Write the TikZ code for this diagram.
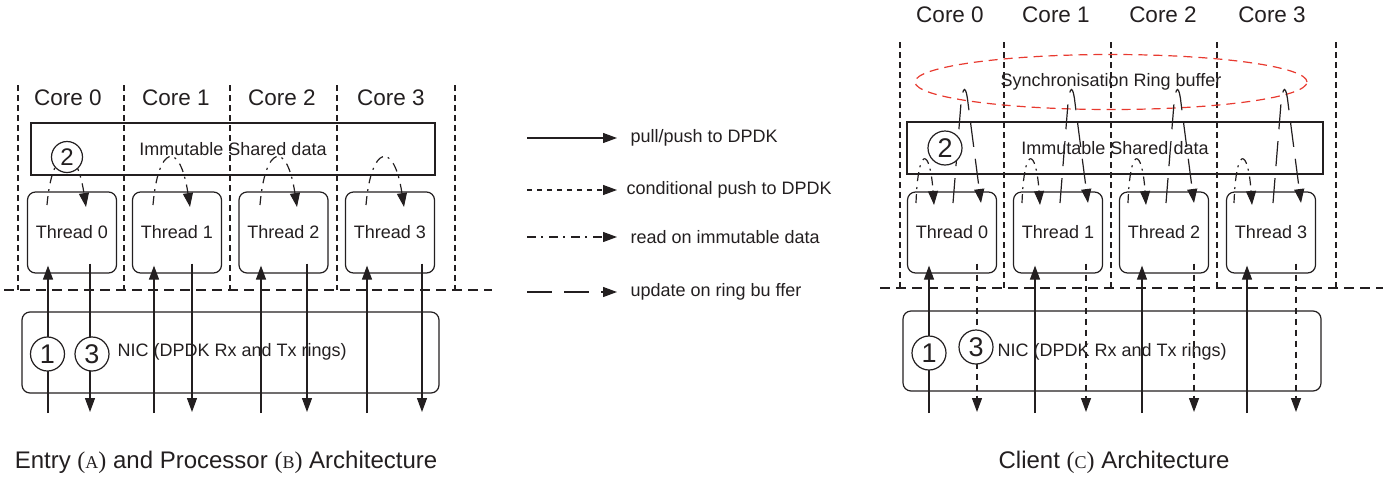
\documentclass[tikz,border=0pt]{standalone}
\usepackage{fontspec}
\setmainfont{Liberation Sans}
\newfontfamily\tms{Liberation Serif}
\usetikzlibrary{arrows.meta,shapes.geometric}
\definecolor{ringred}{RGB}{232,58,48}
\definecolor{ink}{RGB}{35,31,32}
% small-caps style letter in parentheses, set in a serif face
\newcommand\capsc[1]{{\tms({\fontsize{18}{20}\selectfont #1})}}

\begin{document}
\begin{tikzpicture}[x=1pt,y=-1pt,line width=1.2pt,color=ink,
  >={Triangle[length=14pt,width=10pt]},
  txt/.style={inner sep=0pt,font=\fontsize{18}{21}\selectfont},
  corelbl/.style={inner sep=0pt,font=\fontsize{22.5}{26}\selectfont},
  caption/.style={inner sep=0pt,font=\fontsize{24}{28}\selectfont},
  grid/.style={dash pattern=on 6pt off 4pt},
  sepline/.style={dash pattern=on 10pt off 6pt},
  thread/.style={draw,rounded corners=8pt,minimum width=89pt,minimum height=81pt,inner sep=0pt,font=\fontsize{18}{21}\selectfont},
  shared/.style={draw,minimum height=52pt,inner sep=0pt,font=\fontsize{18}{21}\selectfont},
  nic/.style={draw,rounded corners=8pt,inner sep=0pt},
  num/.style={draw,circle,fill=white,minimum size=34pt,inner sep=0pt,font=\fontsize{27}{27}\selectfont},
  smallnum/.style={num,minimum size=31pt,font=\fontsize{24}{24}\selectfont},
  condline/.style={->,dash pattern=on 5pt off 5pt},
  readline/.style={->,dash pattern=on 9pt off 5pt on 2pt off 6pt},
  ringline/.style={->,dash pattern=on 25pt off 12pt},
  ring/.style={draw=ringred,ellipse,dash pattern=on 9pt off 6pt,minimum width=392pt,minimum height=55pt,inner sep=0pt,font=\fontsize{18}{21}\selectfont}
]
\useasboundingbox (0,0) rectangle (1383,480);

% ===================== Entry / Processor architecture =====================
\foreach \x in {18,124,230,337,455} \draw[grid] (\x,85) -- (\x,290);
\draw[sepline] (4,290) -- (492,290);

\foreach \i/\x in {0/68,1/176,2/282,3/391}
  \node[corelbl] (coreA\i) at (\x,98) {Core \i};

\node[shared,minimum width=404pt] (sharedA) at (233,149) {Immutable Shared data};

\foreach \i/\x in {0/72,1/177,2/283.5,3/390}
  \node[thread] (thA\i) at (\x,232.5) {Thread \i};

\node[nic,minimum width=417pt,minimum height=81pt] (nicA) at (230.5,352.5) {};
\node[txt,anchor=west] (nicAl) at (117,352) {NIC (DPDK Rx and Tx rings)};

% packets pulled from and pushed to the NIC
\foreach \i/\u/\d in {0/48/90,1/154/192,2/261/307,3/367/422}{
  \coordinate (inA\i) at (\u,413);
  \coordinate (outA\i) at (\d,412);
  \draw[->,shorten >=-8pt] (inA\i) -- (inA\i |- thA\i.south);
  \draw[->] (outA\i |- thA\i.south) ++(0,-10) -- (outA\i);
}

% reads on the shared data
\foreach \i/\s/\e in {0/47/86,1/153/190,2/260/297,3/366/404}{
  \coordinate (rsA\i) at (\s,205);
  \coordinate (reA\i) at (\e,207);
  \draw[readline] (rsA\i) .. controls +(5,-60) and +(-10,-67) .. (reA\i);
}

\node[smallnum] (twoA) at (67,157) {2};
\node[num] (oneA) at (47.5,354) {1};
\node[num] (threeA) at (92,354) {3};

\node[caption] (capA) at (226,462) {Entry \capsc{A} and Processor \capsc{B} Architecture};

% ================================ Legend ===================================
\coordinate (lgS1) at (527,138); \coordinate (lgE1) at (617,138);
\coordinate (lgS2) at (527,190); \coordinate (lgE2) at (617,190);
\coordinate (lgS3) at (527,237); \coordinate (lgE3) at (617,237);
\coordinate (lgS4) at (527,292); \coordinate (lgE4) at (617,292);
\draw[->] (lgS1) -- (lgE1);
\draw[condline] (lgS2) -- (lgE2);
\draw[readline] (lgS3) -- (lgE3);
\draw[ringline] (lgS4) -- (lgE4);
\node[txt,anchor=west] (lgT1) at (630,138) {pull/push to DPDK};
\node[txt,anchor=west] (lgT2) at (626,190) {conditional push to DPDK};
\node[txt,anchor=west] (lgT3) at (630,237) {read on immutable data};
\node[txt,anchor=west] (lgT4) at (630,292) {update on ring bu ffer};

% ========================== Client architecture ============================
\foreach \x in {900,1004,1111,1217,1336} \draw[grid] (\x,42) -- (\x,288);
\draw[sepline] (880,288) -- (1383,288);

\foreach \i/\x in {0/950,1/1056,2/1163,3/1272}
  \node[corelbl] (coreC\i) at (\x,15) {Core \i};

\node[ring] (ringC) at (1111,82) {Synchronisation Ring buffer};

\node[shared,minimum width=416pt] (sharedC) at (1115,148) {Immutable Shared data};

\foreach \i/\x in {0/952,1/1058,2/1164,3/1271}
  \node[thread] (thC\i) at (\x,232.5) {Thread \i};

\node[nic,minimum width=418pt,minimum height=80pt] (nicC) at (1112,351) {};
\node[txt,anchor=west] (nicCl) at (997,352) {NIC (DPDK Rx and Tx rings)};

\foreach \i/\u/\d in {0/929/977,1/1035/1086,2/1142/1194,3/1247/1296}{
  \coordinate (inC\i) at (\u,413);
  \coordinate (outC\i) at (\d,412);
  \draw[->,shorten >=-8pt] (inC\i) -- (inC\i |- thC\i.south);
  \draw[condline,dash pattern=on 6pt off 5pt] (outC\i |- thC\i.south) ++(0,-10) -- (outC\i);
}

% reads on the shared data
\foreach \i/\s in {0/916,1/1022,2/1128,3/1234}{
  \coordinate (rsC\i) at (\s,203);
  \coordinate (reC\i) at (\s+18,205);
  \draw[readline] (rsC\i) .. controls +(2,-58) and +(-4,-58) .. (reC\i);
}

% updates through the synchronisation ring
\foreach \i/\s in {0/953,1/1060,2/1166,3/1273}{
  \coordinate (usC\i) at (\s,203);
  \coordinate (ueC\i) at (\s+28,203);
  \draw[ringline] (usC\i) -- ++(8,-100) .. controls +(2,-18) and +(-2,-18) .. ++(7,0) -- (ueC\i);
}

\node[num] (twoC) at (945,148) {2};
\node[num] (oneC) at (929,353) {1};
\node[num] (threeC) at (976,347) {3};

\node[caption] (capC) at (1114,462) {Client \capsc{C} Architecture};
\end{tikzpicture}
\end{document}
